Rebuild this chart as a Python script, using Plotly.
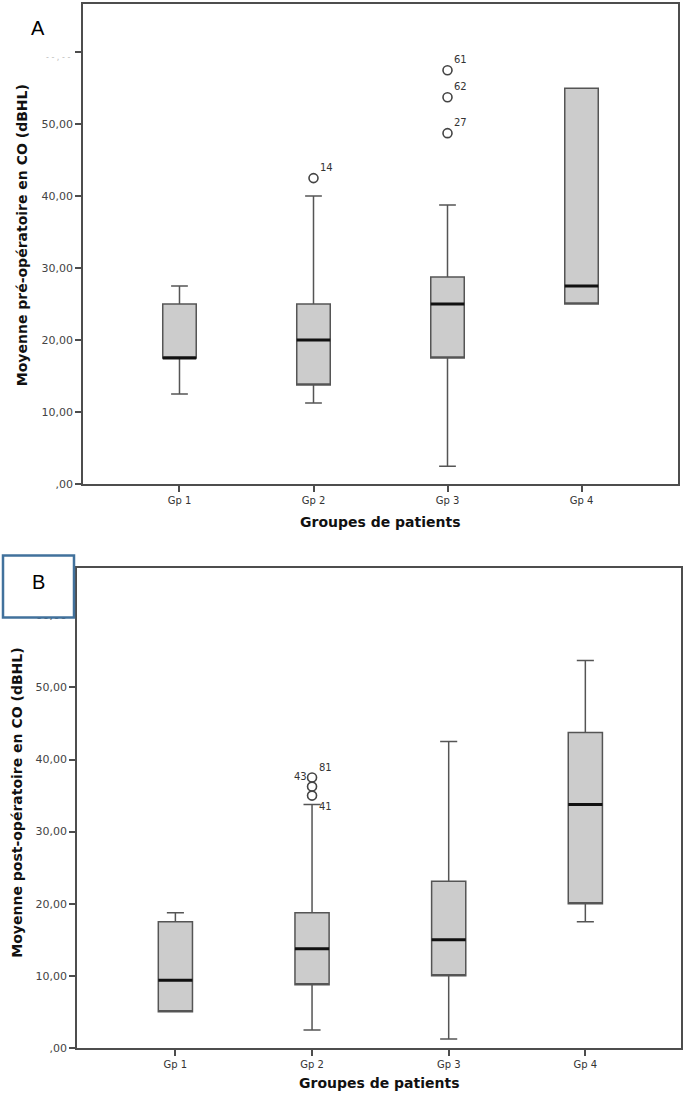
import plotly.graph_objects as go

groups = ["Gp 1", "Gp 2", "Gp 3", "Gp 4"]

# Panel A: pre-operative
pre_low = [12.5, 11.25, 2.45, 25.0]
pre_q1 = [17.5, 13.75, 17.5, 25.0]
pre_med = [17.5, 20.0, 25.0, 27.5]
pre_q3 = [25.0, 25.0, 28.75, 55.0]
pre_high = [27.5, 40.0, 38.75, 55.0]
pre_out_group = ["Gp 2", "Gp 3", "Gp 3", "Gp 3"]
pre_out_val = [42.5, 57.5, 53.75, 48.75]
pre_out_lab = ["14", "61", "62", "27"]

# Panel B: post-operative
post_low = [5.0, 2.5, 1.25, 17.5]
post_q1 = [5.0, 8.75, 10.0, 20.0]
post_med = [9.38, 13.75, 15.0, 33.75]
post_q3 = [17.5, 18.75, 23.13, 43.75]
post_high = [18.75, 33.75, 42.5, 53.75]
post_out_group = ["Gp 2", "Gp 2", "Gp 2"]
post_out_val = [37.5, 36.25, 35.0]

yticks = [0, 10, 20, 30, 40, 50, 60]
ytext_a = [",00", "10,00", "20,00", "30,00", "40,00", "50,00", ""]
ytext_b = [",00", "10,00", "20,00", "30,00", "40,00", "50,00", "60,00"]

W, H = 688, 1098
K = 1.0073
def px(x): return x / W
def py(y): return 1 - (y * K) / H

fig = go.Figure()

def add_panel(xa, ya, low, q1, med, q3, high):
    fig.add_trace(go.Box(
        x=groups, q1=q1, median=q1, q3=q3, lowerfence=low, upperfence=high,
        fillcolor="#cccccc", line=dict(color="#555555", width=1.5),
        width=0.25, whiskerwidth=0.5, boxpoints=False, showlegend=False,
        hoverinfo="skip", xaxis=xa, yaxis=ya))
    fig.add_trace(go.Box(
        x=groups, q1=med, median=med, q3=med, lowerfence=med, upperfence=med,
        fillcolor="rgba(0,0,0,0)", line=dict(color="#111111", width=3),
        width=0.25, whiskerwidth=0, boxpoints=False, showlegend=False,
        hoverinfo="skip", xaxis=xa, yaxis=ya))

add_panel("x", "y", pre_low, pre_q1, pre_med, pre_q3, pre_high)
add_panel("x2", "y2", post_low, post_q1, post_med, post_q3, post_high)

fig.add_trace(go.Scatter(x=pre_out_group, y=pre_out_val, mode="markers",
    marker=dict(symbol="circle-open", size=9, color="#444444", line=dict(width=1.6)),
    showlegend=False, hoverinfo="skip", xaxis="x", yaxis="y"))
fig.add_trace(go.Scatter(x=post_out_group, y=post_out_val, mode="markers",
    marker=dict(symbol="circle-open", size=9, color="#444444", line=dict(width=1.6)),
    showlegend=False, hoverinfo="skip", xaxis="x2", yaxis="y2"))

lab_font = dict(family="DejaVu Sans", size=10, color="#333333")
def ann(**kw):
    kw.setdefault("showarrow", False)
    kw.setdefault("xanchor", "center")
    kw.setdefault("yanchor", "middle")
    fig.add_annotation(**kw)

for g, v, t in zip(pre_out_group, pre_out_val, pre_out_lab):
    ann(x=g, y=v, xref="x", yref="y", text=t, xshift=13, yshift=11, font=lab_font)
ann(x="Gp 2", y=post_out_val[0], xref="x2", yref="y2", text="81",
    xshift=13, yshift=10, font=lab_font)
ann(x="Gp 2", y=post_out_val[0], xref="x2", yref="y2", text="43",
    xshift=-12, yshift=1, font=lab_font)
ann(x="Gp 2", y=post_high[1], xref="x2", yref="y2", text="41",
    xshift=13, yshift=-2, font=lab_font)

axis_common = dict(showline=True, linecolor="#4d4d4d", linewidth=1.5, mirror=True,
                   ticks="outside", ticklen=6, tickwidth=1.5, tickcolor="#4d4d4d",
                   showgrid=False, zeroline=False)
ytickfont = dict(family="DejaVu Sans", size=11, color="#444444")
xtickfont = dict(family="DejaVu Sans", size=10, color="#333333")

fig.update_layout(
    width=W, height=H, margin=dict(l=0, r=0, t=0, b=0),
    paper_bgcolor="white", plot_bgcolor="white",
    xaxis=dict(domain=[px(83), px(678)], anchor="y", type="category",
               range=[-0.72, 3.72], tickfont=xtickfont, **axis_common),
    yaxis=dict(domain=[py(483.5), py(4)], anchor="x", range=[0, 66.7],
               tickvals=yticks, ticktext=ytext_a, tickfont=ytickfont, **axis_common),
    xaxis2=dict(domain=[px(77), px(681)], anchor="y2", type="category",
                range=[-0.72, 3.70], tickfont=xtickfont, **axis_common),
    yaxis2=dict(domain=[py(1047), py(568)], anchor="x2", range=[0, 66.5],
                tickvals=yticks, ticktext=ytext_b, tickfont=ytickfont, **axis_common),
)

title_font = dict(family="DejaVu Sans", size=14, color="#111111")
ann(x=px(22), y=py(235), xref="paper", yref="paper",
    text="<b>Moyenne pré-opératoire en CO (dBHL)</b>", textangle=-90, font=title_font)
ann(x=px(380), y=py(522), xref="paper", yref="paper",
    text="<b>Groupes de patients</b>", font=title_font)
ann(x=px(17), y=py(802), xref="paper", yref="paper",
    text="<b>Moyenne post-opératoire en CO (dBHL)</b>", textangle=-90, font=title_font)
ann(x=px(379), y=py(1082), xref="paper", yref="paper",
    text="<b>Groupes de patients</b>", font=title_font)

# obscured 60 label in panel A
ann(x=px(58), y=py(57), xref="paper", yref="paper",
    text="- - , - -", font=dict(family="DejaVu Sans", size=8, color="#bbbbbb"))

# panel letters
ann(x=px(38), y=py(28), xref="paper", yref="paper",
    text="A", font=dict(family="Liberation Sans", size=20, color="black"))
fig.add_shape(type="rect", xref="paper", yref="paper",
              x0=px(3), x1=px(74), y0=py(617), y1=py(555),
              line=dict(color="#41719c", width=2.5), fillcolor="white", layer="above")
ann(x=px(38), y=py(581), xref="paper", yref="paper",
    text="B", font=dict(family="Liberation Sans", size=20, color="black"))

fig.write_html("out.html", config={"displayModeBar": False},
               post_script="document.body.style.margin='0';document.body.style.overflow='hidden';document.documentElement.style.overflow='hidden';")
